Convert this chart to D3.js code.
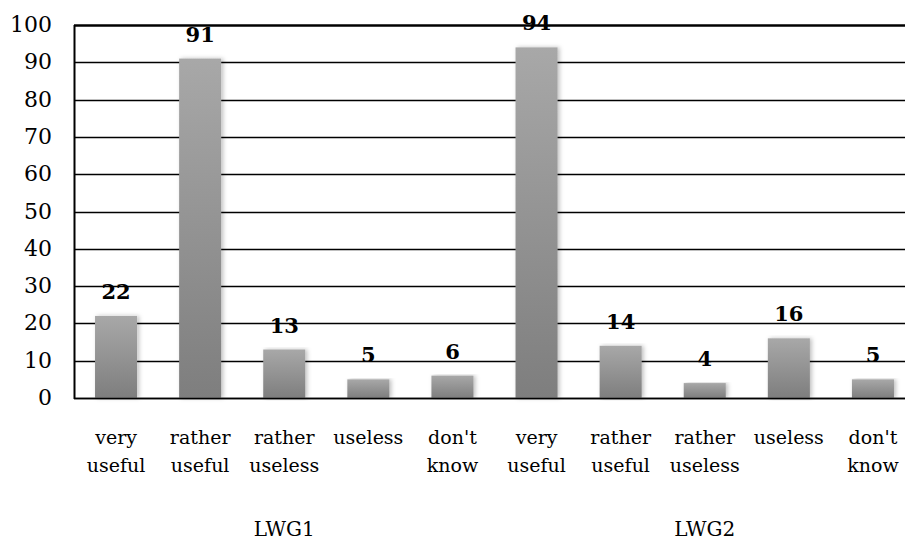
<!DOCTYPE html>
<html>
<head>
<meta charset="utf-8">
<script src="https://cdn.jsdelivr.net/npm/d3@7"></script>
<style>
  html, body { margin: 0; padding: 0; background: #fff; }
  svg { display: block; }
</style>
</head>
<body>
<svg id="chart" width="905" height="540"></svg>
<script>
// Responses per answer option, for two working groups
const groups = ["LWG1", "LWG2"];
const answers = [["very", "useful"], ["rather", "useful"], ["rather", "useless"], ["useless"], ["don't", "know"]];
const lwg1Values = [22, 91, 13, 5, 6];
const lwg2Values = [94, 14, 4, 16, 5];
const yTicks = [0, 10, 20, 30, 40, 50, 60, 70, 80, 90, 100];

const rows = [];
groups.forEach((g, gi) => {
  const vals = gi === 0 ? lwg1Values : lwg2Values;
  answers.forEach((a, ai) => rows.push({ key: g + "-" + ai, group: g, lines: a, value: vals[ai] }));
});

const serif = "DejaVu Serif";
const svg = d3.select("#chart").attr("font-family", serif);
const margin = { left: 74, top: 25, right: -10, bottom: 142 };
const width = 905 - margin.left - margin.right;
const height = 540 - margin.top - margin.bottom;

const x = d3.scaleBand().domain(rows.map(d => d.key)).range([0, width]).paddingInner(0.5).paddingOuter(0.25);
const y = d3.scaleLinear().domain([0, 100]).range([height, 0]);

const defs = svg.append("defs");
const grad = defs.append("linearGradient").attr("id", "barFill").attr("x1", 0).attr("y1", 0).attr("x2", 0).attr("y2", 1);
grad.append("stop").attr("offset", "0%").attr("stop-color", "#a8a8a8");
grad.append("stop").attr("offset", "100%").attr("stop-color", "#7e7e7e");
const shadow = defs.append("filter").attr("id", "barShadow").attr("x", "-20%").attr("y", "-5%").attr("width", "150%").attr("height", "110%");
shadow.append("feDropShadow").attr("dx", 2).attr("dy", 0).attr("stdDeviation", 2).attr("flood-color", "#000").attr("flood-opacity", 0.25);

const g = svg.append("g").attr("transform", `translate(${margin.left},${margin.top})`);

// horizontal gridlines
g.append("g").selectAll("line").data(yTicks).join("line")
  .attr("x1", 0).attr("x2", width)
  .attr("y1", d => Math.round(y(d)) + 0.5).attr("y2", d => Math.round(y(d)) + 0.5)
  .attr("stroke", "#000").attr("stroke-width", d => d === 100 ? 2.5 : 1.5);

// y tick labels
g.append("g").selectAll("text").data(yTicks).join("text")
  .attr("font-family", serif)
  .attr("x", -22).attr("y", d => y(d) + 7)
  .attr("text-anchor", "end").attr("font-size", 22)
  .text(d => d);

// left axis line
g.append("line").attr("x1", 0.5).attr("x2", 0.5).attr("y1", y(100)).attr("y2", y(0) + 1)
  .attr("stroke", "#000").attr("stroke-width", 2);

// bars
g.append("g").selectAll("rect").data(rows).join("rect")
  .attr("x", d => x(d.key)).attr("width", x.bandwidth())
  .attr("y", d => y(d.value)).attr("height", d => y(0) - y(d.value))
  .attr("fill", "url(#barFill)").attr("filter", "url(#barShadow)");

// redraw the baseline over the bars
g.append("line").attr("x1", 0).attr("x2", width).attr("y1", Math.round(y(0)) + 0.5).attr("y2", Math.round(y(0)) + 0.5)
  .attr("stroke", "#000").attr("stroke-width", 1.5);

// value labels
g.append("g").selectAll("text").data(rows).join("text")
  .attr("font-family", serif)
  .attr("x", d => x(d.key) + x.bandwidth() / 2).attr("y", d => y(d.value) - 17)
  .attr("text-anchor", "middle").attr("font-size", 21).attr("font-weight", "bold")
  .text(d => d.value);

// category labels
const cat = g.append("g").selectAll("text").data(rows).join("text")
  .attr("font-family", serif)
  .attr("text-anchor", "middle").attr("font-size", 19)
  .attr("transform", d => `translate(${x(d.key) + x.bandwidth() / 2},${height + 46})`);
cat.selectAll("tspan").data(d => d.lines).join("tspan")
  .attr("x", 0).attr("dy", (d, i) => i === 0 ? 0 : 28).text(d => d);

// group labels, centred under their five answer columns
g.append("g").selectAll("text").data(groups).join("text")
  .attr("font-family", serif)
  .attr("text-anchor", "middle").attr("font-size", 20)
  .attr("x", gName => d3.mean(rows.filter(r => r.group === gName), r => x(r.key) + x.bandwidth() / 2))
  .attr("y", height + 138)
  .text(d => d);
</script>
</body>
</html>
